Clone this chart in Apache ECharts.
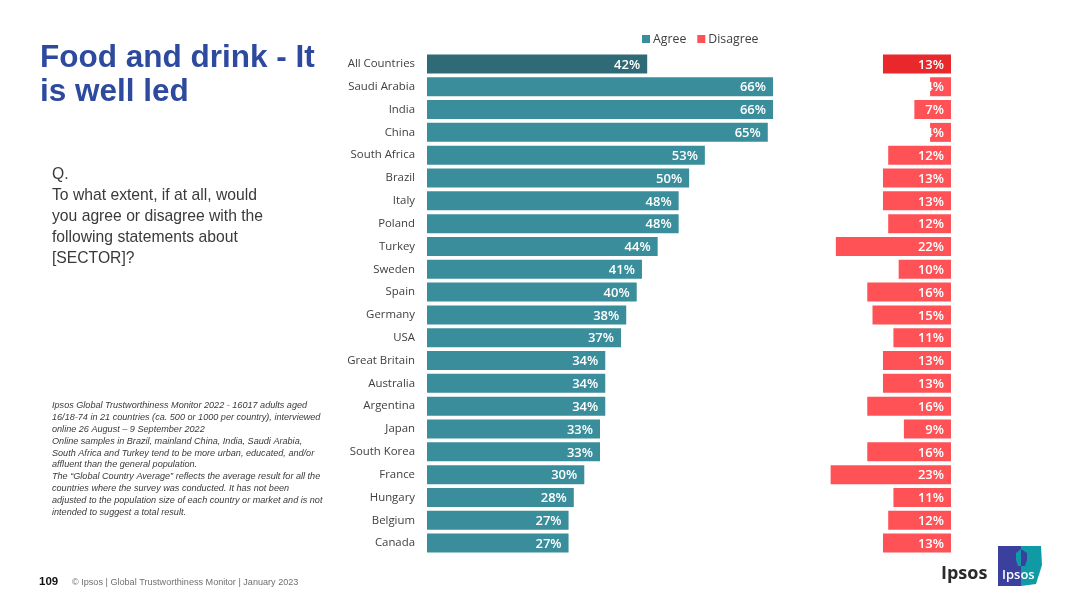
<!DOCTYPE html>
<html>
<head>
<meta charset="utf-8">
<title>Food and drink - It is well led</title>
<script src="https://cdn.jsdelivr.net/npm/echarts@6/dist/echarts.min.js"></script>
<style>
    html, body { margin: 0; padding: 0; background: #fff; }
    #chart { width: 1080px; height: 607px; }
</style>
</head>
<body>
<div id="chart"></div>
<script>
const countries = ["All Countries", "Saudi Arabia", "India", "China", "South Africa", "Brazil", "Italy", "Poland",
    "Turkey", "Sweden", "Spain", "Germany", "USA", "Great Britain", "Australia", "Argentina", "Japan",
    "South Korea", "France", "Hungary", "Belgium", "Canada"];
const agree = [42, 66, 66, 65, 53, 50, 48, 48, 44, 41, 40, 38, 37, 34, 34, 34, 33, 33, 30, 28, 27, 27];
const disagree = [13, 4, 7, 4, 12, 13, 13, 12, 22, 10, 16, 15, 11, 13, 13, 16, 9, 16, 23, 11, 12, 13];

const titleLines = ["Food and drink - It", "is well led"];
const questionLines = ["Q.", "To what extent, if at all, would", "you agree or disagree with the",
    "following statements about", "[SECTOR]?"];
const noteLines = [
    "Ipsos Global Trustworthiness Monitor 2022 - 16017 adults aged",
    "16/18-74 in 21 countries (ca. 500 or 1000 per country), interviewed",
    "online 26 August \u2013 9 September 2022",
    "Online samples in Brazil, mainland China, India, Saudi Arabia,",
    "South Africa and Turkey tend to be more urban, educated, and/or",
    "affluent than the general population.",
    "The \u201cGlobal Country Average\u201d reflects the average result for all the",
    "countries where the survey was conducted. It has not been",
    "adjusted to the population size of each country or market and is not",
    "intended to suggest a total result."
];

const teal = "#3a8e9c", tealDark = "#2f6b76";
const red = "#ff5257", redDark = "#e8282a";
const labelFont = "'Open Sans', sans-serif";
const textFont = "'Liberation Sans', Arial, sans-serif";

// first row (All Countries) is the darker shade
function rows(values, first) {
    return values.map((v, i) => i === 0 ? { value: v, itemStyle: { color: first } } : v);
}

function barLabel() {
    return {
        show: true,
        position: "insideRight",
        distance: 7,
        offset: [0, 1],
        color: "#fff",
        fontFamily: labelFont,
        fontWeight: 600,
        fontSize: 13,
        formatter: "{c}%"
    };
}

let chart = echarts.init(document.getElementById("chart"));
chart.setOption({
    animation: false,
    backgroundColor: "#fff",
    textStyle: { fontFamily: labelFont },
    legend: {
        data: ["Agree", "Disagree"],
        left: 637,
        top: 28,
        itemWidth: 8,
        itemHeight: 8,
        itemGap: 11,
        icon: "rect",
        selectedMode: false,
        textStyle: { color: "#404040", fontSize: 12.3, fontFamily: labelFont, padding: [0, 0, 0, -2] }
    },
    grid: [
        { left: 427, top: 52.5, width: 367, height: 502 },
        { left: 794, top: 52.5, width: 157, height: 502 }
    ],
    xAxis: [
        { gridIndex: 0, type: "value", min: 0, max: 70, show: false },
        { gridIndex: 1, type: "value", min: 0, max: 30, inverse: true, show: false }
    ],
    yAxis: [
        {
            gridIndex: 0, type: "category", data: countries, inverse: true,
            axisLine: { show: false }, axisTick: { show: false },
            axisLabel: { color: "#404040", fontSize: 11.4, margin: 12, fontFamily: labelFont, interval: 0 }
        },
        {
            gridIndex: 1, type: "category", data: countries, inverse: true,
            axisLine: { show: false }, axisTick: { show: false }, axisLabel: { show: false }
        }
    ],
    series: [
        {
            name: "Agree", type: "bar", xAxisIndex: 0, yAxisIndex: 0,
            data: rows(agree, tealDark), barWidth: 19, itemStyle: { color: teal }, label: barLabel()
        },
        {
            name: "Disagree", type: "bar", xAxisIndex: 1, yAxisIndex: 1,
            data: rows(disagree, redDark), barWidth: 19, itemStyle: { color: red }, label: barLabel()
        }
    ],
    graphic: [
        {
            type: "text", left: 40, top: 41,
            style: { text: titleLines.join("\n"), fill: "#2e4a9e", font: "bold 31.5px " + textFont, lineHeight: 34 }
        },
        {
            type: "text", left: 52, top: 164,
            style: { text: questionLines.join("\n"), fill: "#3a3a3a", font: "15.7px " + textFont, lineHeight: 21 }
        },
        {
            type: "text", left: 52, top: 400,
            style: { text: noteLines.join("\n"), fill: "#3a3a3a", font: "italic 9.1px " + textFont, lineHeight: 11.8 }
        },
        {
            type: "text", left: 39, top: 576,
            style: { text: "109", fill: "#111111", font: "bold 11.5px " + textFont }
        },
        {
            type: "text", left: 72, top: 578,
            style: { text: "\u00a9 Ipsos | Global Trustworthiness Monitor | January 2023", fill: "#707070", font: "9.1px " + textFont }
        },
        {
            type: "text", left: 941, top: 565,
            style: { text: "Ipsos", fill: "#2b2b2b", font: "bold 18px " + labelFont }
        },
        // logo box, blue half and teal half, keyhole in swapped colours
        { type: "polygon", shape: { points: [[998, 546], [1021, 546], [1021, 586], [998, 586]] }, style: { fill: "#3b3f9e" } },
        { type: "polygon", shape: { points: [[1021, 546], [1041, 546], [1042, 565], [1036, 584], [1021, 586]] }, style: { fill: "#0f9aa5" } },
        { type: "polygon", shape: { points: [[1021, 549], [1016, 553], [1016, 560], [1018, 566], [1021, 566]] }, style: { fill: "#0f9aa5" } },
        { type: "polygon", shape: { points: [[1021, 549], [1027, 553], [1027, 560], [1025, 566], [1021, 566]] }, style: { fill: "#3b3f9e" } },
        {
            type: "text", left: 1002, top: 569,
            style: { text: "Ipsos", fill: "#ffffff", font: "600 13px " + labelFont }
        }
    ]
});
</script>
</body>
</html>
